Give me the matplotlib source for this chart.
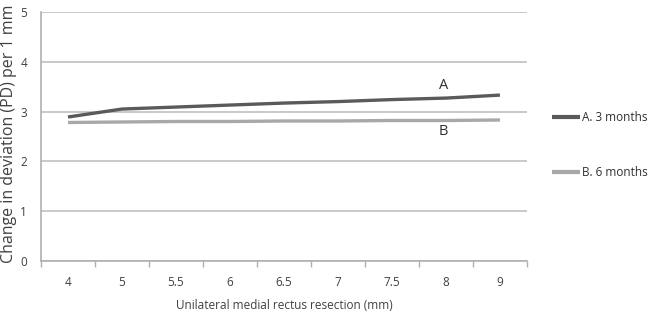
import numpy as np
import matplotlib.pyplot as plt

plt.rcParams['font.family'] = ['Open Sans', 'DejaVu Sans']

# data
categories = ['4', '5', '5.5', '6', '6.5', '7', '7.5', '8', '9']
months3 = [2.89, 3.05, 3.09, 3.13, 3.17, 3.20, 3.24, 3.27, 3.33]
months6 = [2.78, 2.79, 2.80, 2.80, 2.81, 2.81, 2.82, 2.82, 2.83]

fig = plt.figure(figsize=(6.67, 3.14), dpi=100)
ax = fig.add_axes([0.0615, 0.169, 0.7285, 0.793])

x = np.arange(len(categories))
ax.plot(x, months3, color='#5a5a5a', lw=2.4, label='A. 3 months', solid_capstyle='butt')
ax.plot(x, months6, color='#a8a8a8', lw=2.4, label='B. 6 months', solid_capstyle='butt')

ax.set_xlim(-0.5, len(categories) - 0.5)
ax.set_ylim(0, 5)
ax.set_yticks(range(6))
ax.yaxis.grid(True, color='#c0c0c0', lw=1.2)
ax.set_axisbelow(True)

ax.set_xticks(x)
ax.set_xticklabels(categories)
ax.set_xticks(np.arange(-0.5, len(categories)), minor=True)
ax.tick_params(axis='x', which='major', length=0, pad=11, labelsize=8.5, colors='#404040')
ax.tick_params(axis='x', which='minor', length=4, color='#b0b0b0', width=1)
ax.tick_params(axis='y', length=0, pad=10, labelsize=8.5, colors='#404040')

for s in ['top', 'right']:
    ax.spines[s].set_visible(False)
for s in ['left', 'bottom']:
    ax.spines[s].set_color('#b0b0b0')
    ax.spines[s].set_linewidth(1.2)

ax.set_xlabel('Unilateral medial rectus resection (mm)', fontsize=8.5, color='#404040', labelpad=7)
# the y label runs past the top edge in the original
fig.text(0.013, 0.575, 'Change in deviation (PD) per 1 mm', rotation=90,
         ha='center', va='center', fontsize=11.5, color='#404040')

ax.text(6.95, 3.53, 'A', fontsize=10.5, color='#303030', ha='center', va='center')
ax.text(6.95, 2.6, 'B', fontsize=10.5, color='#303030', ha='center', va='center')

# legend drawn beside the plot area
leg = ax.legend(loc='center left', bbox_to_anchor=(1.03, 0.465), frameon=False,
                fontsize=8.5, handlelength=2.4, handletextpad=0.15, labelspacing=3.6,
                labelcolor='#303030')
for h in leg.get_lines():
    h.set_linewidth(3)

fig.savefig('out.png', dpi=100)
